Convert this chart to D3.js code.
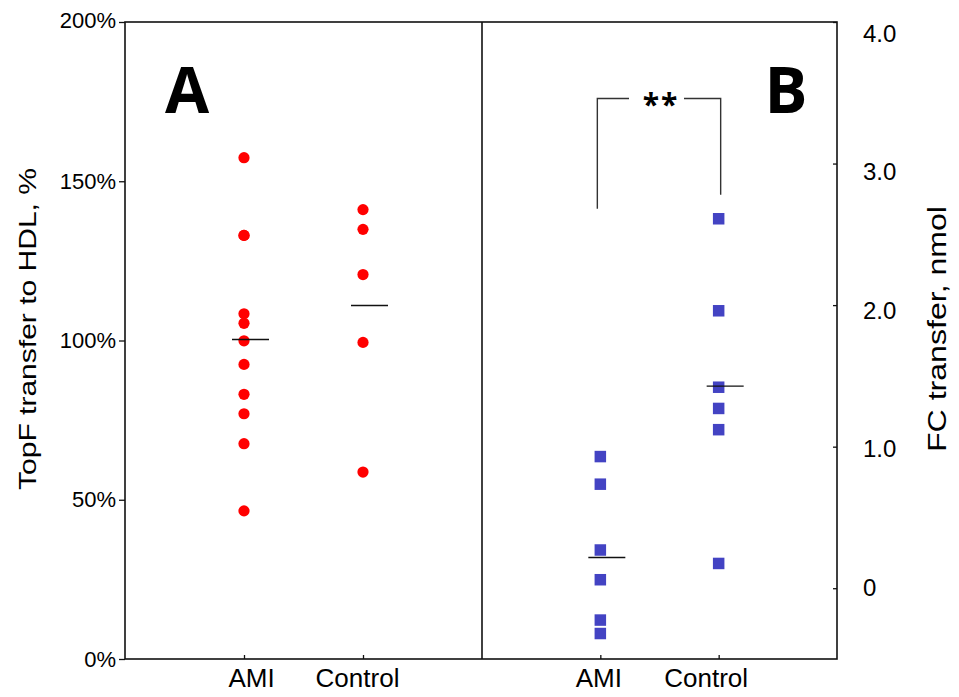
<!DOCTYPE html>
<html>
<head>
<meta charset="utf-8">
<script src="https://cdn.jsdelivr.net/npm/d3@7"></script>
<style>
  html, body { margin: 0; padding: 0; background: #fff; }
  svg { display: block; }
  text { font-family: "Liberation Sans", Arial, sans-serif; fill: #000; }
</style>
</head>
<body>
<svg id="chart" width="959" height="697"></svg>
<script>
// ---------- data ----------
const categories = ["AMI", "Control"];
// Panel A: TopF transfer to HDL, %
const topfAMI = [157.4, 133.0, 133.0, 108.4, 105.4, 99.9, 92.5, 83.1, 77.0, 67.6, 46.5];
const topfControl = [141.1, 134.9, 120.7, 99.4, 58.7];
const topfMeans = [100.3, 111.0];
const topfTicks = [0, 50, 100, 150, 200];
// Panel B: FC transfer, nmol
const fcAMI = [0.93, 0.735, 0.27, 0.06, -0.225, -0.32];
const fcControl = [2.61, 1.96, 1.42, 1.27, 1.12, 0.175];
const fcMeans = [0.217, 1.428];
const fcTicks = [0, 1, 2, 3, 4];
const fcTickLabels = ["0", "1.0", "2.0", "3.0", "4.0"];
// significance bracket (in FC units): top level, left leg end, right leg end
const bracketTop = 3.46;
const bracketLegEnds = [2.68, 2.78];
const sigLabel = "**";

// ---------- layout ----------
const svg = d3.select("#chart");
const pLeft = 125, pMid = 482, pRight = 837, pTop = 22, pBottom = 659;
// horizontal nudges of the category labels as placed in the source figure
const labelNudgeA = [7, -6];
const labelNudgeB = [-2, -13];

const xA = d3.scalePoint().domain(categories).range([pLeft, pMid]).padding(1);
const xB = d3.scalePoint().domain(categories).range([pMid, pRight]).padding(1);
const yA = d3.scaleLinear().domain([0, 200]).range([pBottom, pTop]);
const yB = d3.scaleLinear().domain([-0.5, 4.0]).range([pBottom, pTop]);
// label placement of the right axis in the source figure is slightly off the ticks
const yBLabel = d3.scaleLinear().domain([0, 4]).range([587.5, 33.5]);

// frame
svg.append("rect")
  .attr("x", pLeft).attr("y", pTop)
  .attr("width", pRight - pLeft).attr("height", pBottom - pTop)
  .attr("fill", "none").attr("stroke", "#111").attr("stroke-width", 1.6);
svg.append("line")
  .attr("x1", pMid).attr("x2", pMid).attr("y1", pTop).attr("y2", pBottom)
  .attr("stroke", "#111").attr("stroke-width", 1.6);

// left axis
const axL = svg.append("g").attr("transform", `translate(${pLeft},0)`)
  .call(d3.axisLeft(yA).tickValues(topfTicks).tickSize(6).tickPadding(3)
    .tickFormat(d => d + "%"));
axL.select(".domain").remove();
axL.selectAll("line").attr("stroke", "#111").attr("stroke-width", 1.3);
axL.selectAll("text").style("font-size", "22px").attr("font-family", null)
  .attr("transform", d => d === 200 ? "translate(0,-2)" : null);

// right axis
const axR = svg.append("g").attr("transform", `translate(${pRight},0)`)
  .call(d3.axisRight(yB).tickValues(fcTicks).tickSizeInner(-4).tickSizeOuter(0).tickPadding(26)
    .tickFormat((d, i) => fcTickLabels[i]));
axR.select(".domain").remove();
axR.selectAll("line").attr("stroke", "#111").attr("stroke-width", 1.3);
axR.selectAll("text").style("font-size", "24px").attr("font-family", null)
  .attr("transform", d => `translate(0,${yBLabel(d) - yB(d)})`);

// bottom axes
[[xA, labelNudgeA], [xB, labelNudgeB]].forEach(([xs, nudge]) => {
  const g = svg.append("g").attr("transform", `translate(0,${pBottom})`)
    .call(d3.axisBottom(xs).tickSizeInner(-4).tickSizeOuter(0).tickPadding(10));
  g.select(".domain").remove();
  g.selectAll("line").attr("stroke", "#111").attr("stroke-width", 1.3);
  g.selectAll("text").style("font-size", "26px").attr("font-family", null)
    .attr("dx", (d, i) => nudge[i]);
});

// titles
svg.append("text")
  .attr("transform", `translate(36,329) rotate(-90)`)
  .attr("text-anchor", "middle")
  .attr("textLength", 322).attr("lengthAdjust", "spacingAndGlyphs")
  .style("font-size", "24px")
  .text("TopF transfer to HDL, %");
svg.append("text")
  .attr("transform", `translate(946,329) rotate(-90)`)
  .attr("text-anchor", "middle")
  .attr("textLength", 246).attr("lengthAdjust", "spacingAndGlyphs")
  .style("font-size", "26px")
  .text("FC transfer, nmol");

// panel letters
svg.append("text").attr("x", 187).attr("y", 113).attr("text-anchor", "middle")
  .style("font-family", "'Open Sans', 'Liberation Sans', sans-serif")
  .style("font-weight", 700).style("font-size", "64px").text("A");
svg.append("text").attr("x", 786).attr("y", 113).attr("text-anchor", "middle")
  .style("font-family", "'Open Sans', 'Liberation Sans', sans-serif")
  .style("font-weight", 700).style("font-size", "64px").text("B");

// panel A points
const ptsA = [].concat(
  topfAMI.map(v => ({c: "AMI", v})),
  topfControl.map(v => ({c: "Control", v}))
);
svg.append("g").selectAll("circle").data(ptsA).join("circle")
  .attr("cx", d => xA(d.c)).attr("cy", d => yA(d.v)).attr("r", 5.6)
  .attr("fill", "#ff0000");

// panel B points
const ptsB = [].concat(
  fcAMI.map(v => ({c: "AMI", v})),
  fcControl.map(v => ({c: "Control", v}))
);
const sq = 11.5;
svg.append("g").selectAll("rect").data(ptsB).join("rect")
  .attr("x", d => xB(d.c) - sq / 2).attr("y", d => yB(d.v) - sq / 2)
  .attr("width", sq).attr("height", sq)
  .attr("fill", "#4343c3");

// mean lines
const meanLine = (xs, ys, means) => {
  svg.append("g").selectAll("line").data(categories).join("line")
    .attr("x1", d => xs(d) - 12).attr("x2", d => xs(d) + 25)
    .attr("y1", (d, i) => ys(means[i])).attr("y2", (d, i) => ys(means[i]))
    .attr("stroke", "#111").attr("stroke-width", 1.4);
};
meanLine(xA, yA, topfMeans);
meanLine(xB, yB, fcMeans);

// significance bracket
const bx1 = xB("AMI") - 3, bx2 = xB("Control") + 2;
const by = yB(bracketTop);
const bmid = (bx1 + bx2) / 2;
const bk = svg.append("g").attr("stroke", "#333").attr("stroke-width", 1.4).attr("fill", "none");
bk.append("path").attr("d", `M${bx1},${yB(bracketLegEnds[0])}V${by}H${bmid - 30}`);
bk.append("path").attr("d", `M${bmid + 25},${by}H${bx2}V${yB(bracketLegEnds[1])}`);
svg.append("text").attr("x", bmid + 2).attr("y", 115).attr("text-anchor", "middle")
  .style("font-family", "'Open Sans', 'Liberation Sans', sans-serif")
  .style("font-weight", 700).style("font-size", "30px").style("letter-spacing", "2px")
  .text(sigLabel);
</script>
</body>
</html>
